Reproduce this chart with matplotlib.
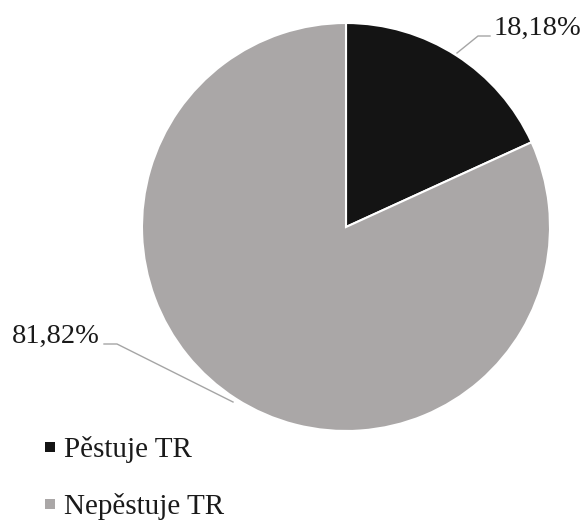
import matplotlib.pyplot as plt

# Share of respondents who grow TR
labels = ["Pěstuje TR", "Nepěstuje TR"]
values = [18.18, 81.82]
colors = ["#141414", "#aaa7a7"]
value_text = ["18,18%", "81,82%"]

W, H = 587, 522
fig = plt.figure(figsize=(W / 100, H / 100), dpi=100)
ax = fig.add_axes([0, 0, 1, 1])

serif = ["Liberation Serif", "DejaVu Serif"]

cx, cy, r = 346, H - 227, 204
ax.pie(
    values,
    colors=colors,
    startangle=90,
    counterclock=False,
    center=(cx, cy),
    radius=r,
    wedgeprops=dict(edgecolor="white", linewidth=1.5),
    frame=True,
)
ax.set_xlim(0, W)
ax.set_ylim(0, H)
ax.set_aspect("equal")
ax.axis("off")

# Data labels with leader lines
line_kw = dict(color="#a5a5a5", linewidth=1.0)
ax.plot([457, 478, 490], [H - 53, H - 36, H - 36], **line_kw)
ax.text(494, H - 35, value_text[0], fontsize=20.5, family=serif,
        ha="left", va="baseline", color="#1a1a1a")

ax.plot([233, 117, 104], [H - 402, H - 344, H - 344], **line_kw)
ax.text(100, H - 343, value_text[1], fontsize=20.5, family=serif,
        ha="right", va="baseline", color="#1a1a1a")

# Legend
for i, (lab, col) in enumerate(zip(labels, colors)):
    base = 457 + 57 * i
    ax.scatter([50], [H - (base - 10)], marker="s", s=52, color=col, linewidths=0)
    ax.text(64, H - base, lab, fontsize=21, family=serif,
            ha="left", va="baseline", color="#1a1a1a")

fig.savefig("out.png", dpi=100)
